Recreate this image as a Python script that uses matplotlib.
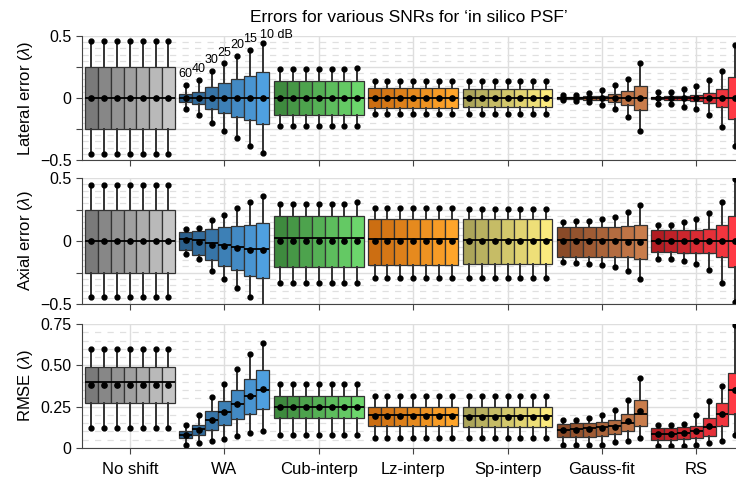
import numpy as np
import matplotlib.pyplot as plt
from matplotlib.colors import to_rgb

plt.rcParams['font.family'] = ['Liberation Sans', 'DejaVu Sans']
plt.rcParams['mathtext.fontset'] = 'custom'
plt.rcParams['mathtext.it'] = 'Liberation Sans:italic'
plt.rcParams['mathtext.rm'] = 'Liberation Sans'

methods = ['No shift', 'WA', 'Cub-interp', 'Lz-interp', 'Sp-interp', 'Gauss-fit', 'RS']
snr_labels = ['60', '40', '30', '25', '20', '15', '10 dB']

# rows: methods, columns: SNR 60, 40, 30, 25, 20, 15, 10 dB
# lateral error
lat_q3 = [[0.25, 0.25, 0.25, 0.25, 0.25, 0.25, 0.25],
          [0.03, 0.05, 0.09, 0.125, 0.155, 0.18, 0.21],
          [0.14, 0.14, 0.14, 0.14, 0.14, 0.14, 0.14],
          [0.078, 0.078, 0.078, 0.078, 0.078, 0.078, 0.078],
          [0.07, 0.07, 0.07, 0.07, 0.07, 0.07, 0.07],
          [0.008, 0.01, 0.014, 0.02, 0.035, 0.06, 0.10],
          [0.012, 0.015, 0.02, 0.025, 0.04, 0.07, 0.17]]
lat_q1 = [[-0.25, -0.25, -0.25, -0.25, -0.25, -0.25, -0.25],
          [-0.03, -0.05, -0.09, -0.12, -0.155, -0.18, -0.21],
          [-0.14, -0.14, -0.14, -0.14, -0.14, -0.14, -0.14],
          [-0.078, -0.078, -0.078, -0.078, -0.078, -0.078, -0.078],
          [-0.07, -0.07, -0.07, -0.07, -0.07, -0.07, -0.07],
          [-0.008, -0.01, -0.014, -0.02, -0.03, -0.06, -0.10],
          [-0.012, -0.015, -0.02, -0.025, -0.04, -0.07, -0.17]]
lat_hi = [[0.46, 0.46, 0.46, 0.46, 0.46, 0.46, 0.46],
          [0.105, 0.145, 0.22, 0.28, 0.34, 0.39, 0.445],
          [0.23, 0.23, 0.23, 0.23, 0.23, 0.23, 0.24],
          [0.14, 0.14, 0.14, 0.14, 0.14, 0.14, 0.14],
          [0.137, 0.137, 0.137, 0.137, 0.137, 0.137, 0.137],
          [0.024, 0.026, 0.043, 0.065, 0.105, 0.15, 0.285],
          [0.05, 0.05, 0.07, 0.097, 0.145, 0.22, 0.43]]
lat_lo = [[-0.455, -0.455, -0.455, -0.455, -0.455, -0.455, -0.455],
          [-0.09, -0.14, -0.2, -0.27, -0.32, -0.385, -0.445],
          [-0.225, -0.225, -0.225, -0.225, -0.225, -0.225, -0.225],
          [-0.125, -0.125, -0.125, -0.125, -0.125, -0.125, -0.125],
          [-0.13, -0.13, -0.13, -0.13, -0.13, -0.13, -0.13],
          [-0.02, -0.022, -0.035, -0.055, -0.09, -0.15, -0.265],
          [-0.045, -0.05, -0.07, -0.09, -0.14, -0.23, -0.39]]
lat_med = [[0, 0, 0, 0, 0, 0, 0],
           [0, 0, 0, 0, 0, 0, 0],
           [0, 0, 0, 0, 0, 0, 0],
           [0, 0, 0, 0, 0, 0, 0],
           [0, 0, 0, 0, 0, 0, 0],
           [0, 0, 0, 0, 0, 0, 0],
           [0, 0, 0, 0, 0, 0, 0]]
lat_mean = lat_med

# axial error
ax_q3 = [[0.25, 0.25, 0.25, 0.25, 0.25, 0.25, 0.25],
         [0.074, 0.079, 0.097, 0.113, 0.118, 0.13, 0.14],
         [0.197, 0.197, 0.197, 0.197, 0.197, 0.197, 0.195],
         [0.176, 0.176, 0.176, 0.176, 0.176, 0.176, 0.176],
         [0.171, 0.171, 0.171, 0.171, 0.171, 0.171, 0.171],
         [0.113, 0.113, 0.113, 0.113, 0.11, 0.118, 0.13],
         [0.084, 0.084, 0.084, 0.087, 0.092, 0.13, 0.2]]
ax_q1 = [[-0.25, -0.25, -0.25, -0.25, -0.25, -0.25, -0.25],
         [-0.074, -0.113, -0.153, -0.197, -0.232, -0.276, -0.297],
         [-0.203, -0.203, -0.203, -0.203, -0.203, -0.203, -0.21],
         [-0.189, -0.189, -0.189, -0.189, -0.189, -0.189, -0.189],
         [-0.184, -0.184, -0.184, -0.184, -0.184, -0.184, -0.184],
         [-0.124, -0.124, -0.124, -0.124, -0.124, -0.13, -0.145],
         [-0.087, -0.087, -0.092, -0.092, -0.092, -0.126, -0.21]]
ax_hi = [[0.447, 0.447, 0.447, 0.447, 0.447, 0.447, 0.447],
         [0.092, 0.105, 0.166, 0.21, 0.263, 0.31, 0.355],
         [0.295, 0.295, 0.295, 0.295, 0.295, 0.295, 0.31],
         [0.258, 0.258, 0.258, 0.258, 0.258, 0.258, 0.258],
         [0.255, 0.255, 0.255, 0.255, 0.255, 0.255, 0.255],
         [0.153, 0.158, 0.16, 0.171, 0.19, 0.229, 0.284],
         [0.13, 0.13, 0.15, 0.171, 0.224, 0.308, 0.49]]
ax_lo = [[-0.447, -0.447, -0.447, -0.447, -0.447, -0.447, -0.447],
         [-0.105, -0.145, -0.237, -0.30, -0.374, -0.447, -0.52],
         [-0.337, -0.337, -0.337, -0.337, -0.337, -0.337, -0.337],
         [-0.29, -0.29, -0.29, -0.29, -0.29, -0.29, -0.29],
         [-0.29, -0.29, -0.29, -0.29, -0.29, -0.29, -0.29],
         [-0.163, -0.171, -0.179, -0.19, -0.21, -0.242, -0.30],
         [-0.14, -0.14, -0.158, -0.179, -0.232, -0.337, -0.487]]
ax_med = [[0, 0, 0, 0, 0, 0, 0],
          [0.013, 0.008, -0.018, -0.034, -0.047, -0.06, -0.066],
          [0.021, 0.021, 0.021, 0.021, 0.021, 0.021, 0.021],
          [0.013, 0.013, 0.013, 0.013, 0.013, 0.013, 0.013],
          [0.01, 0.01, 0.01, 0.01, 0.01, 0.01, 0.01],
          [0.008, 0.008, 0.008, 0.008, 0.008, 0.008, 0.008],
          [0, 0, 0, 0, 0, 0, 0]]
ax_mean = [[0, 0, 0, 0, 0, 0, 0],
           [0.005, -0.005, -0.03, -0.042, -0.055, -0.071, -0.074],
           [0, 0, 0, 0, 0, 0, 0],
           [0, 0, 0, 0, 0, 0, 0],
           [0, 0, 0, 0, 0, 0, 0],
           [0, 0, 0, 0, 0, -0.005, -0.005],
           [0, 0, 0, 0, 0, 0, 0]]

# RMSE
rm_q3 = [[0.487, 0.487, 0.487, 0.487, 0.487, 0.487, 0.487],
         [0.101, 0.142, 0.221, 0.284, 0.349, 0.416, 0.474],
         [0.312, 0.312, 0.312, 0.312, 0.312, 0.312, 0.312],
         [0.251, 0.251, 0.251, 0.251, 0.251, 0.251, 0.251],
         [0.247, 0.247, 0.247, 0.247, 0.247, 0.247, 0.247],
         [0.146, 0.15, 0.154, 0.16, 0.17, 0.207, 0.288],
         [0.122, 0.122, 0.126, 0.136, 0.18, 0.272, 0.456]]
rm_q1 = [[0.274, 0.274, 0.274, 0.274, 0.274, 0.274, 0.274],
         [0.059, 0.077, 0.109, 0.14, 0.176, 0.207, 0.233],
         [0.182, 0.182, 0.182, 0.182, 0.182, 0.182, 0.182],
         [0.132, 0.132, 0.132, 0.132, 0.132, 0.132, 0.132],
         [0.126, 0.126, 0.126, 0.126, 0.126, 0.126, 0.126],
         [0.065, 0.065, 0.069, 0.073, 0.085, 0.101, 0.136],
         [0.049, 0.049, 0.055, 0.059, 0.075, 0.132, 0.203]]
rm_hi = [[0.598, 0.598, 0.598, 0.598, 0.598, 0.598, 0.598],
         [0.142, 0.197, 0.308, 0.385, 0.48, 0.568, 0.637],
         [0.385, 0.385, 0.385, 0.385, 0.385, 0.385, 0.385],
         [0.312, 0.312, 0.312, 0.312, 0.312, 0.312, 0.312],
         [0.312, 0.312, 0.312, 0.312, 0.312, 0.312, 0.312],
         [0.17, 0.172, 0.182, 0.197, 0.231, 0.292, 0.426],
         [0.142, 0.142, 0.146, 0.2, 0.282, 0.375, 0.744]]
rm_lo = [[0.12, 0.12, 0.12, 0.12, 0.12, 0.12, 0.12],
         [0.018, 0.028, 0.045, 0.055, 0.075, 0.089, 0.105],
         [0.079, 0.079, 0.079, 0.079, 0.079, 0.079, 0.079],
         [0.061, 0.061, 0.061, 0.061, 0.061, 0.061, 0.061],
         [0.061, 0.061, 0.061, 0.061, 0.061, 0.061, 0.061],
         [0.018, 0.018, 0.018, 0.02, 0.034, 0.04, 0.059],
         [0.01, 0.01, 0.01, 0.018, 0.028, 0.045, 0.079]]
rm_med = [[0.40, 0.40, 0.40, 0.40, 0.40, 0.40, 0.40],
          [0.081, 0.116, 0.17, 0.215, 0.264, 0.316, 0.349],
          [0.247, 0.247, 0.247, 0.247, 0.247, 0.247, 0.247],
          [0.2, 0.2, 0.2, 0.2, 0.2, 0.2, 0.2],
          [0.193, 0.193, 0.193, 0.193, 0.193, 0.193, 0.193],
          [0.111, 0.113, 0.122, 0.126, 0.132, 0.152, 0.207],
          [0.085, 0.085, 0.091, 0.101, 0.126, 0.207, 0.349]]
rm_mean = [[0.383, 0.383, 0.383, 0.383, 0.383, 0.383, 0.383],
           [0.079, 0.111, 0.17, 0.215, 0.268, 0.316, 0.359],
           [0.247, 0.247, 0.247, 0.247, 0.247, 0.247, 0.247],
           [0.193, 0.193, 0.193, 0.193, 0.193, 0.193, 0.193],
           [0.189, 0.189, 0.189, 0.189, 0.189, 0.189, 0.189],
           [0.109, 0.11, 0.116, 0.118, 0.13, 0.162, 0.221],
           [0.085, 0.085, 0.089, 0.105, 0.136, 0.203, 0.349]]

# dark -> light colour per method
color_ends = [('#7a7a7a', '#c6c6c6'),
              ('#2b5f8c', '#4fa0e0'),
              ('#3e8a3e', '#6cd66c'),
              ('#cc6e12', '#ffa52a'),
              ('#aca55a', '#fbea7e'),
              ('#8a4a28', '#c97d4c'),
              ('#b31c22', '#ff3a44')]

W = 0.136  # box width / spacing within a group


def shades(c0, c1, n=7):
    a, b = np.array(to_rgb(c0)), np.array(to_rgb(c1))
    return [tuple(a + (b - a) * t) for t in np.linspace(0, 1, n)]


def draw_panel(ax, q1, q3, lo, hi, med, mean):
    stats, pos, cols = [], [], []
    for g in range(len(methods)):
        sh = shades(*color_ends[g])
        for j in range(7):
            stats.append(dict(med=med[g][j], q1=q1[g][j], q3=q3[g][j],
                              whislo=lo[g][j], whishi=hi[g][j],
                              mean=mean[g][j], fliers=[]))
            pos.append(g + (j - 3) * W)
            cols.append(sh[j])
    bp = ax.bxp(stats, positions=pos, widths=W, patch_artist=True,
                showmeans=True, showcaps=False, showfliers=False,
                boxprops=dict(edgecolor='#333333', linewidth=0.9),
                whiskerprops=dict(color='#333333', linewidth=1.4),
                medianprops=dict(color='black', linewidth=1.3),
                meanprops=dict(marker='o', markerfacecolor='black',
                               markeredgecolor='black', markersize=3.8))
    for patch, c in zip(bp['boxes'], cols):
        patch.set_facecolor(c)
    ax.plot(pos, [s['whishi'] for s in stats], 'o', color='black', ms=3.5)
    ax.plot(pos, [s['whislo'] for s in stats], 'o', color='black', ms=3.5)

    ax.set_xlim(-0.508, 6.42)
    ax.set_xticks(range(len(methods)))
    ax.set_axisbelow(True)
    ax.grid(True, which='major', color='#dedede', linewidth=1.0)
    ax.grid(True, which='minor', axis='y', color='#e0e0e0',
            linewidth=0.9, linestyle=(0, (5, 5)))
    for s in ['top', 'right']:
        ax.spines[s].set_visible(False)
    for s in ['left', 'bottom']:
        ax.spines[s].set_color('#444444')
    ax.tick_params(axis='both', which='major', length=4, color='#444444',
                   labelsize=11.5)
    ax.tick_params(axis='y', which='minor', length=0)
    ax.yaxis.set_label_coords(-0.072, 0.5)


fig = plt.figure(figsize=(7.36, 4.8), dpi=100)
ax1 = fig.add_axes([82 / 736, 1 - 160 / 480, 1 - 82 / 736, 124 / 480])
ax2 = fig.add_axes([82 / 736, 1 - 304 / 480, 1 - 82 / 736, 126 / 480])
ax3 = fig.add_axes([82 / 736, 1 - 448 / 480, 1 - 82 / 736, 124 / 480])

draw_panel(ax1, lat_q1, lat_q3, lat_lo, lat_hi, lat_med, lat_mean)
draw_panel(ax2, ax_q1, ax_q3, ax_lo, ax_hi, ax_med, ax_mean)
draw_panel(ax3, rm_q1, rm_q3, rm_lo, rm_hi, rm_med, rm_mean)

for ax in (ax1, ax2):
    ax.set_ylim(-0.5, 0.5)
    ax.set_yticks([-0.5, -0.25, 0, 0.25, 0.5])
    ax.set_yticklabels(['\u22120.5', '', '0', '', '0.5'])
    ax.set_yticks(np.arange(-0.5, 0.51, 0.05), minor=True)
    ax.set_xticklabels([])
ax3.set_ylim(0, 0.75)
ax3.set_yticks([0, 0.25, 0.5, 0.75])
ax3.set_yticklabels(['0', '0.25', '0.50', '0.75'])
ax3.set_yticks(np.arange(0, 0.76, 0.05), minor=True)
ax3.set_xticklabels(methods, fontsize=12)
ax3.tick_params(axis='x', pad=6)

ax1.set_ylabel(r'Lateral error ($\lambda$)', fontsize=12)
ax2.set_ylabel(r'Axial error ($\lambda$)', fontsize=12)
ax3.set_ylabel(r'RMSE ($\lambda$)', fontsize=12)

# SNR annotations above the WA whiskers
for j, lab in enumerate(snr_labels):
    x = 1 + (j - 3) * W
    if lab.endswith('dB'):
        ax1.annotate(lab, (x, lat_hi[1][j]), xytext=(-2, 3.4),
                     textcoords='offset points', ha='left', va='baseline',
                     fontsize=9, annotation_clip=False)
    else:
        ax1.annotate(lab, (x, lat_hi[1][j]), xytext=(0, 5.6),
                     textcoords='offset points', ha='center', va='baseline',
                     fontsize=9, annotation_clip=False)

fig.text((82 + 736) / 2 / 736, 1 - 18 / 480,
         'Errors for various SNRs for \u2018in silico PSF\u2019',
         ha='center', va='center', fontsize=12.5)

fig.savefig('out.png', dpi=100)
